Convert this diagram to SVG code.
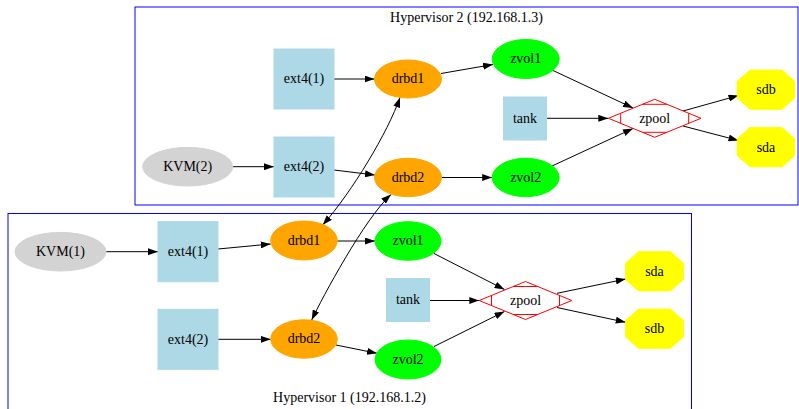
<svg xmlns="http://www.w3.org/2000/svg" xmlns:xlink="http://www.w3.org/1999/xlink" width="799" height="409" viewBox="0 0 799 409">
<style>
text{font-family:"Liberation Serif","Times New Roman",serif;font-size:14px;fill:#000;text-anchor:middle}
.cl{fill:none;stroke:#0000ff;stroke-width:1}
.box{fill:#add8e6;stroke:#add8e6}
.drbd{fill:#ffa500;stroke:#ffa500}
.zvol{fill:#00ff00;stroke:#00ff00}
.kvm{fill:#d3d3d3;stroke:#d3d3d3}
.disk{fill:#ffff00;stroke:#ffff00}
.pool{fill:#fff;stroke:#ff0000;stroke-width:1}
.e{fill:none;stroke:#000;stroke-width:1;marker-end:url(#ah)}
.b{marker-start:url(#ah)}
</style>
<defs>
<marker id="ah" markerWidth="10" markerHeight="7" refX="10" refY="3.5" orient="auto-start-reverse" markerUnits="userSpaceOnUse"><path d="M0,0 L10,3.5 L0,7 Z" fill="#000"/></marker>
<polygon id="oct" points="-16,-19.6 16,-19.6 28.8,-8.3 28.8,8.3 16,19.6 -16,19.6 -28.8,8.3 -28.8,-8.3"/>
<g id="mdia">
<polygon points="-46.3,0 0,-19 46.3,0 0,19"/>
<path d="M-12.2,-14 H12.2 M-12.2,14 H12.2 M-34,-5.1 V5.1 M34,-5.1 V5.1" fill="none"/>
</g>
</defs>
<rect width="799" height="409" fill="#fff"/>
<g id="cluster_h2">
<rect class="cl" x="135" y="7" width="663" height="198"/>
<text x="466.5" y="22">Hypervisor 2 (192.168.1.3)</text>
</g>
<g id="cluster_h1">
<rect class="cl" x="8" y="213.5" width="683.5" height="197"/>
<text x="349.5" y="402">Hypervisor 1 (192.168.1.2)</text>
</g>
<g id="edges">
<path class="e" d="M334,79 L374.5,79"/>
<path class="e" d="M441,73.5 L493,64.5"/>
<path class="e" d="M552,70 L633,108"/>
<path class="e" d="M547,118.3 L608.3,118.3"/>
<path class="e" d="M552,166 L633,128.5"/>
<path class="e" d="M683,111 L738.5,95.5"/>
<path class="e" d="M683,126 L738.5,140.5"/>
<path class="e" d="M233,166.7 L274,166.7"/>
<path class="e" d="M334,170 L375,175"/>
<path class="e" d="M441.5,177.5 L492.2,177.5"/>
<path class="e" d="M106,251.7 L158,251.7"/>
<path class="e" d="M218,249 L270.7,244"/>
<path class="e" d="M337.3,241 L375,241"/>
<path class="e" d="M434,253.5 L504.5,289.5"/>
<path class="e" d="M430,300.5 L479.3,300.5"/>
<path class="e" d="M434,346.5 L504.5,311.5"/>
<path class="e" d="M557,293.3 L625.7,279"/>
<path class="e" d="M557,307.5 L625.7,322.3"/>
<path class="e" d="M218,339.3 L270.7,339.3"/>
<path class="e" d="M336,345 L377,353.3"/>
<path class="e b" d="M322.7,225 C352,192 388,132 400,97.5"/>
<path class="e b" d="M311.7,320 C322,298 365,218 391,194.5"/>
</g>
<g id="h2_ext4_1"><rect class="box" x="274" y="49" width="60" height="60"/><text x="304" y="83.3">ext4(1)</text></g>
<g id="h2_drbd1"><ellipse class="drbd" cx="408" cy="79" rx="33.5" ry="19"/><text x="408" y="83.3">drbd1</text></g>
<g id="h2_zvol1"><ellipse class="zvol" cx="525.7" cy="59" rx="33.5" ry="19.5"/><text x="525.7" y="63.3">zvol1</text></g>
<g id="h2_tank"><rect class="box" x="503.5" y="97" width="43" height="43"/><text x="525" y="122.8">tank</text></g>
<g id="h2_zpool"><use xlink:href="#mdia" class="pool" transform="translate(654.7,118.3)"/><text x="654.7" y="122.6">zpool</text></g>
<g id="h2_sdb"><use xlink:href="#oct" class="disk" transform="translate(766,89.7)"/><text x="766" y="94">sdb</text></g>
<g id="h2_sda"><use xlink:href="#oct" class="disk" transform="translate(766,147.2)"/><text x="766" y="151.5">sda</text></g>
<g id="h2_kvm2"><ellipse class="kvm" cx="187.7" cy="166.7" rx="45" ry="19.3"/><text x="187.7" y="171">KVM(2)</text></g>
<g id="h2_ext4_2"><rect class="box" x="274" y="137" width="60" height="60"/><text x="304" y="171.3">ext4(2)</text></g>
<g id="h2_drbd2"><ellipse class="drbd" cx="408" cy="177.5" rx="33.5" ry="19.2"/><text x="408" y="181.8">drbd2</text></g>
<g id="h2_zvol2"><ellipse class="zvol" cx="525.7" cy="177.5" rx="33.5" ry="19.2"/><text x="525.7" y="181.8">zvol2</text></g>
<g id="h1_kvm1"><ellipse class="kvm" cx="60.5" cy="251.7" rx="45.5" ry="19.3"/><text x="60.5" y="256">KVM(1)</text></g>
<g id="h1_ext4_1"><rect class="box" x="158" y="221.7" width="60" height="60"/><text x="188" y="256">ext4(1)</text></g>
<g id="h1_drbd1"><ellipse class="drbd" cx="304" cy="240.5" rx="33.3" ry="19.5"/><text x="304" y="244.8">drbd1</text></g>
<g id="h1_zvol1"><ellipse class="zvol" cx="408" cy="241" rx="33" ry="19.3"/><text x="408" y="245.3">zvol1</text></g>
<g id="h1_tank"><rect class="box" x="386.5" y="278.5" width="43" height="43"/><text x="408" y="304.3">tank</text></g>
<g id="h1_zpool"><use xlink:href="#mdia" class="pool" transform="translate(525.5,300.5)"/><text x="525.5" y="304.8">zpool</text></g>
<g id="h1_sda"><use xlink:href="#oct" class="disk" transform="translate(654.5,271.3)"/><text x="654.5" y="275.6">sda</text></g>
<g id="h1_sdb"><use xlink:href="#oct" class="disk" transform="translate(654.5,328.7)"/><text x="654.5" y="333">sdb</text></g>
<g id="h1_ext4_2"><rect class="box" x="158" y="309.3" width="60" height="60"/><text x="188" y="343.6">ext4(2)</text></g>
<g id="h1_drbd2"><ellipse class="drbd" cx="304" cy="339" rx="33.3" ry="19.2"/><text x="304" y="343.3">drbd2</text></g>
<g id="h1_zvol2"><ellipse class="zvol" cx="408" cy="359.5" rx="33" ry="19.5"/><text x="408" y="363.8">zvol2</text></g>
</svg>
